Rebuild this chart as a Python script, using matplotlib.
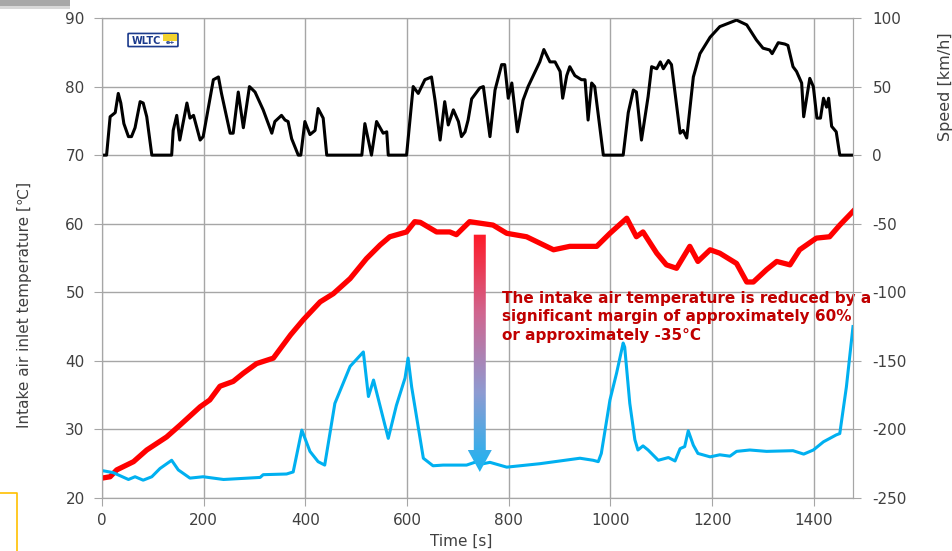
import numpy as np
import matplotlib
matplotlib.use('Agg')
import matplotlib.pyplot as plt
from matplotlib.colors import LinearSegmentedColormap
from matplotlib.patches import Polygon, Rectangle, FancyBboxPatch
from matplotlib.lines import Line2D

plt.rcParams['axes.unicode_minus'] = False

# vehicle speed over the WLTC cycle (right axis)
speed_t = [0, 9, 16, 26, 32, 37, 43, 52, 58, 65, 75, 81, 88, 98, 137, 140, 147, 153, 167, 173,
           180, 193, 199, 219, 229, 235, 252, 258, 268, 278, 290, 301, 317, 334, 340, 353, 360, 366, 373, 386,
           391, 399, 409, 419, 425, 435, 442, 511, 517, 530, 540, 553, 560, 563, 599, 612, 622, 635, 648, 655,
           665, 674, 681, 691, 701, 707, 714, 720, 727, 743, 750, 763, 773, 786, 792, 799, 806, 817, 828, 838,
           861, 869, 881, 891, 901, 906, 914, 920, 930, 943, 950, 956, 963, 969, 986, 1025, 1035, 1045, 1051, 1061,
           1074, 1081, 1091, 1098, 1104, 1114, 1120, 1137, 1143, 1150, 1163, 1176, 1196, 1215, 1231, 1248, 1268, 1287, 1300, 1313,
           1318, 1330, 1343, 1349, 1359, 1366, 1376, 1380, 1392, 1399, 1406, 1413, 1419, 1425, 1429, 1435, 1444, 1451, 1477]
speed = [0, 0, 28, 31, 45, 38, 23, 13.5, 13.5, 20, 39, 38, 28, 0, 0, 18, 29, 11, 38, 27,
         29, 11, 13.5, 55, 57, 45, 16, 16, 46, 20, 50, 46, 33, 16, 24.5, 29, 25.6, 24.5, 12, 0,
         0, 24.5, 15, 18, 34, 27, 0, 0, 23, 0, 24.5, 16, 17, 0, 0, 50, 45, 55, 57, 40,
         11, 39, 22, 33, 24.5, 13.5, 17, 25.6, 41, 49, 50, 13.5, 47.5, 66, 66, 41.5, 52.6, 17, 40, 50,
         68, 77, 68, 68, 61, 41.5, 58, 64.5, 58, 55, 55, 25.6, 52.6, 50, 0, 0, 31, 47.5, 46, 11,
         42.6, 64.5, 63, 68, 63, 69, 66, 16, 18, 12.5, 57, 74, 86, 93.7, 96, 98.5, 95, 84, 78, 76.7,
         74, 82, 81, 80, 64.5, 61, 52.6, 28, 56, 50, 27, 27, 41.5, 35, 41.5, 21, 17, 0, 0]

# intake air temperature without cooling (red)
hot_t = [0, 16, 29, 62, 88, 127, 153, 193, 212, 232, 258, 278, 304, 337, 371, 396, 429, 455, 488, 520,
         547, 566, 599, 615, 626, 658, 684, 697, 723, 769, 796, 835, 888, 920, 973, 999, 1032, 1051, 1064, 1091,
         1110, 1130, 1156, 1172, 1196, 1215, 1248, 1268, 1281, 1307, 1327, 1353, 1372, 1405, 1431, 1451, 1477]
hot = [22.9, 23.1, 24.1, 25.3, 27, 28.9, 30.6, 33.3, 34.3, 36.3, 37, 38.2, 39.6, 40.4, 43.8, 46, 48.6, 49.8, 52, 54.9,
       56.9, 58.1, 58.8, 60.3, 60.2, 58.8, 58.8, 58.4, 60.3, 59.8, 58.6, 58.1, 56.2, 56.7, 56.7, 58.6, 60.8, 58.1, 58.8, 55.7,
       54, 53.5, 56.7, 54.5, 56.2, 55.7, 54.2, 51.5, 51.5, 53.3, 54.5, 54, 56.2, 57.9, 58.1, 59.8, 61.8]

# intake air temperature with cooling (blue)
cool_t = [0, 22, 52, 65, 81, 98, 114, 137, 150, 173, 199, 239, 311, 317, 363, 376, 393, 409, 425, 438,
          458, 488, 514, 524, 534, 563, 579, 596, 602, 609, 632, 651, 671, 717, 737, 743, 763, 796, 861, 940,
          966, 976, 982, 999, 1012, 1025, 1028, 1038, 1048, 1054, 1064, 1074, 1094, 1114, 1127, 1137, 1146, 1153, 1163, 1172,
          1196, 1215, 1235, 1248, 1274, 1307, 1359, 1380, 1399, 1419, 1444, 1451, 1464, 1477]
cool = [24, 23.7, 22.7, 23.1, 22.6, 23.1, 24.3, 25.5, 24.1, 22.9, 23.1, 22.7, 23, 23.4, 23.5, 23.8, 29.9, 26.8, 25.3, 24.8,
        33.8, 39.2, 41.3, 34.8, 37.2, 28.7, 33.5, 37.5, 40.4, 36.2, 25.8, 24.7, 24.8, 24.8, 25.3, 24.9, 25.2, 24.5, 25, 25.8,
        25.5, 25.3, 26.5, 34.3, 38.2, 42.6, 42, 33.8, 28.5, 27, 27.6, 27, 25.5, 25.9, 25.4, 27.2, 27.5, 29.8, 27.7, 26.5,
        26, 26.3, 26.1, 26.8, 27, 26.8, 26.9, 26.4, 27, 28.2, 29.2, 29.4, 36.2, 45]

W, H = 953, 551
grid_c = '#A6A6A6'
text_c = '#404040'

def fx(x):
    return x / W

def fy(y):
    return 1 - y / H

fig = plt.figure(figsize=(W / 100, H / 100), dpi=100)
ax = fig.add_axes([fx(102), fy(498), (853 - 102) / W, (498 - 18) / H])
ax2 = ax.twinx()

ax.plot(hot_t, hot, color='#FF0000', lw=3.8, zorder=3)
ax.plot(cool_t, cool, color='#00B0F0', lw=2.2, zorder=3)
ax2.plot(speed_t, speed, color='black', lw=2.2)

# gradient arrow red -> blue
xc, hw_s, hw_h = 743, 11.8, 23.6
y_top, y_base, y_tip = 58.4, 27.0, 23.8
poly = Polygon([(xc - hw_s, y_top), (xc + hw_s, y_top), (xc + hw_s, y_base), (xc + hw_h, y_base),
                (xc, y_tip), (xc - hw_h, y_base), (xc - hw_s, y_base)],
               closed=True, fc='none', ec='none', transform=ax.transData)
ax.add_patch(poly)
cmap = LinearSegmentedColormap.from_list('arr', ['#1AB4F2', '#8E9BD2', '#D06690', '#FF1A28'])
grad = np.linspace(0, 1, 256).reshape(-1, 1)
im = ax.imshow(grad, cmap=cmap, extent=[xc - hw_h, xc + hw_h, y_tip, y_top],
               origin='lower', aspect='auto', zorder=4)
im.set_clip_path(poly)

ax.text(786, 46.4, 'The intake air temperature is reduced by a\nsignificant margin of approximately 60%\nor approximately -35°C',
        color='#C00000', fontsize=11, fontweight='bold', va='center', ha='left',
        linespacing=1.28, zorder=6, clip_on=False)

ax.set_xlim(0, 1477)
ax.set_ylim(20, 90)
ax2.set_ylim(-250, 100)
ax.set_xticks(range(0, 1401, 200))
ax.set_yticks(range(20, 91, 10))
ax2.set_yticks(range(-250, 101, 50))
ax.grid(True, color=grid_c, lw=1.0)
ax.set_axisbelow(True)
for a in (ax, ax2):
    for s in a.spines.values():
        s.set_color(grid_c)
ax.tick_params(axis='both', colors=grid_c, labelcolor=text_c, labelsize=11, length=5.5)
ax.tick_params(axis='y', pad=7)
ax.tick_params(axis='x', pad=5)
ax2.tick_params(axis='y', colors=grid_c, labelcolor=text_c, labelsize=11, length=6, pad=8)

fig.text(fx(25), fy(305), 'Intake air inlet temperature [℃]', rotation=90, ha='center', va='center',
         fontsize=11, color=text_c)
fig.text(fx(946), fy(87), 'Speed [km/h]', rotation=90, ha='center', va='center',
         fontsize=11.5, color=text_c)
fig.text(fx(461), fy(541), 'Time [s]', ha='center', va='center', fontsize=11, color=text_c)

# WLTC logo
fig.patches.append(FancyBboxPatch((fx(129), fy(46)), 48 / W, 12 / H, boxstyle='round,pad=0.001',
                                  fc='white', ec='#1B3A8C', lw=1.2, transform=fig.transFigure))
fig.patches.append(Rectangle((fx(163), fy(41)), 14 / W, 7 / H, fc='#F2D22E', ec='none',
                             transform=fig.transFigure))
fig.text(fx(146), fy(40.5), 'WLTC', ha='center', va='center', fontsize=7, fontweight='bold', color='#1B3A8C')
fig.text(fx(170), fy(43), 'e+', ha='center', va='center', fontsize=4.5, fontweight='bold', color='#1B3A8C')

# screenshot leftovers at the edges
fig.patches.append(Rectangle((0, fy(6)), 70 / W, 6 / H, fc='#A8A8A8', ec='none', transform=fig.transFigure))
fig.patches.append(Rectangle((0, fy(9)), 70 / W, 3 / H, fc='#D8D8D8', ec='none', transform=fig.transFigure))
fig.lines.append(Line2D([0, fx(16.7), fx(16.7)], [fy(493), fy(493), 0], color='#FFC000', lw=1.2,
                        transform=fig.transFigure))

fig.savefig('out.png', dpi=100)
